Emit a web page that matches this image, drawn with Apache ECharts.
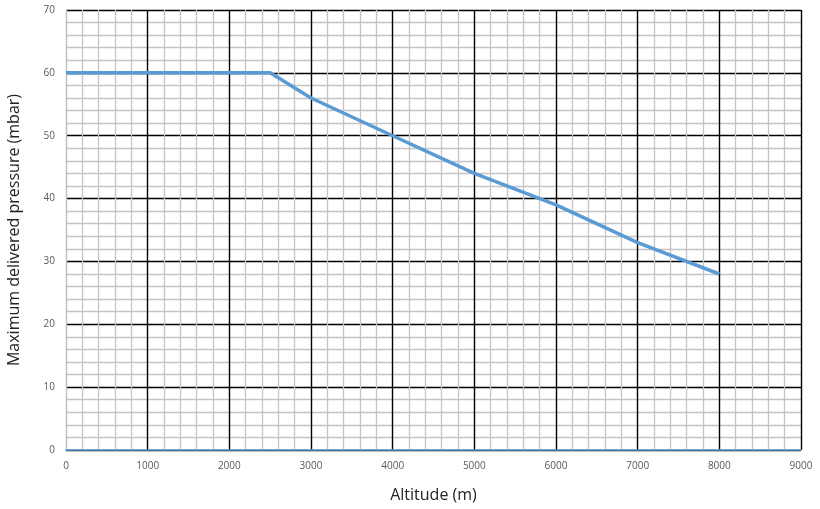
<!DOCTYPE html>
<html><head><meta charset="utf-8">
<script src="https://cdn.jsdelivr.net/npm/echarts@6/dist/echarts.min.js"></script>
<style>html,body{margin:0;padding:0;background:#fff}#c{width:820px;height:509px}</style>
</head><body><div id="c"></div>
<script>
var altitude = [0, 2500, 3000, 4000, 5000, 6000, 7000, 8000];
var pressure = [60, 60, 56, 50, 44, 39, 33, 28];
var xTitle = 'Altitude (m)';
var yTitle = 'Maximum delivered pressure (mbar)';

var chart = echarts.init(document.getElementById('c'));
var xColors = ['#bfbfbf','#000','#000','#000','#000','#000','#000','#000','#000','#000'];
chart.setOption({
  animation: false,
  grid: {left: 66, right: 19, top: 10, bottom: 59, containLabel: false, outerBoundsMode: 'none'},
  xAxis: {
    type: 'value', min: 0, max: 9000, interval: 1000,
    name: xTitle, nameLocation: 'middle', nameGap: 37,
    nameTextStyle: {fontFamily: 'Open Sans', fontSize: 16, color: '#222'},
    axisLine: {show: true, onZero: false, lineStyle: {color: '#5b9bd5', width: 1.5}},
    axisTick: {show: false},
    axisLabel: {fontFamily: 'Open Sans', fontSize: 10, color: '#595959', margin: 11,
      formatter: function(v){ return String(v); }},
    splitLine: {show: true, lineStyle: {color: xColors, width: 1.4}},
    minorTick: {show: false, splitNumber: 5},
    minorSplitLine: {show: true, lineStyle: {color: '#c4c4c4', width: 1.3}}
  },
  yAxis: {
    type: 'value', min: 0, max: 70, interval: 10,
    name: yTitle, nameLocation: 'middle', nameGap: 44,
    nameTextStyle: {fontFamily: 'Open Sans', fontSize: 16, color: '#222'},
    axisLine: {show: false},
    axisTick: {show: false},
    axisLabel: {fontFamily: 'Open Sans', fontSize: 10, color: '#595959', margin: 11,
      formatter: function(v){ return String(v); }},
    splitLine: {show: true, lineStyle: {color: '#000', width: 1.4}},
    minorTick: {show: false, splitNumber: 5},
    minorSplitLine: {show: true, lineStyle: {color: '#c4c4c4', width: 1.3}}
  },
  series: [{
    type: 'line',
    data: altitude.map(function(a, i){ return [a, pressure[i]]; }),
    symbol: 'none',
    lineStyle: {color: '#5b9bd5', width: 3.5},
    z: 5
  }]
});
</script></body></html>
